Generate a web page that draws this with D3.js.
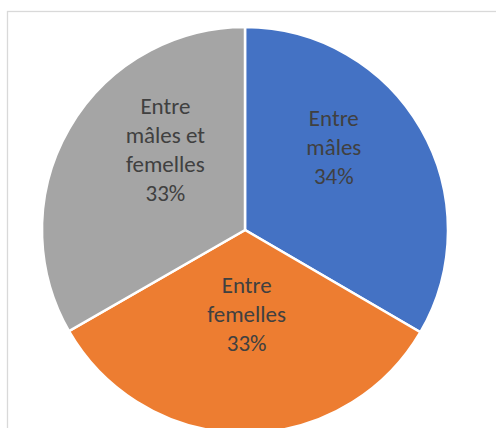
<!DOCTYPE html>
<html>
<head>
<meta charset="utf-8">
<script src="https://cdn.jsdelivr.net/npm/d3@7"></script>
<style>
  body { margin: 0; background: #fff; }
  svg text { font-family: Carlito, Lato, "Liberation Sans", sans-serif; }
</style>
</head>
<body>
<div id="chart"></div>
<script>
// slice data, clockwise from 12 o'clock
const categories = ["Entre mâles", "Entre femelles", "Entre mâles et femelles"];
const values = [33.4, 33.3, 33.3];
const pctLabels = ["34%", "33%", "33%"];
const labelLines = [["Entre", "mâles"], ["Entre", "femelles"], ["Entre", "mâles et", "femelles"]];

const width = 496, height = 428;
const cx = 245, cy = 230, radius = 203;
const colors = ["#4472C4", "#ED7D31", "#A5A5A5"];
// nudges from the centroid so the text sits like Excel puts it
const labelShift = [[-8, -27], [2, -28], [17, -25]];

const svg = d3.select("#chart")
    .append("svg")
    .attr("width", width)
    .attr("height", height);

// chart area frame (right / bottom fall outside the crop)
svg.append("rect")
    .attr("x", 7.5).attr("y", 11.5)
    .attr("width", 600).attr("height", 600)
    .attr("fill", "none")
    .attr("stroke", "#d9d9d9")
    .attr("stroke-width", 1.3);

const g = svg.append("g")
    .attr("transform", "translate(" + cx + "," + cy + ")");

const pie = d3.pie().value(d => d).sort(null);
const arcs = pie(values);

const arc = d3.arc().innerRadius(0).outerRadius(radius);
const labelArc = d3.arc().innerRadius(0).outerRadius(radius * 1.1);

g.selectAll("path")
    .data(arcs)
    .enter()
    .append("path")
    .attr("d", arc)
    .attr("fill", (d, i) => colors[i])
    .attr("stroke", "white")
    .style("stroke-width", "2.5px");

const lineH = 29;
const labels = g.selectAll("text.lbl")
    .data(arcs)
    .enter()
    .append("text")
    .attr("class", "lbl")
    .attr("text-anchor", "middle")
    .attr("fill", "#404040")
    .style("font-size", "23px")
    .attr("transform", (d, i) => {
        const c = labelArc.centroid(d);
        return "translate(" + (c[0] + labelShift[i][0]) + "," + (c[1] + labelShift[i][1]) + ")";
    });

labels.each(function(d, i) {
    const lines = labelLines[i].concat([pctLabels[i]]);
    const n = lines.length;
    const t = d3.select(this);
    lines.forEach((s, k) => {
        t.append("tspan")
            .attr("x", 0)
            .attr("y", (k - (n - 1) / 2) * lineH + 8)
            .text(s);
    });
});
</script>
</body>
</html>
